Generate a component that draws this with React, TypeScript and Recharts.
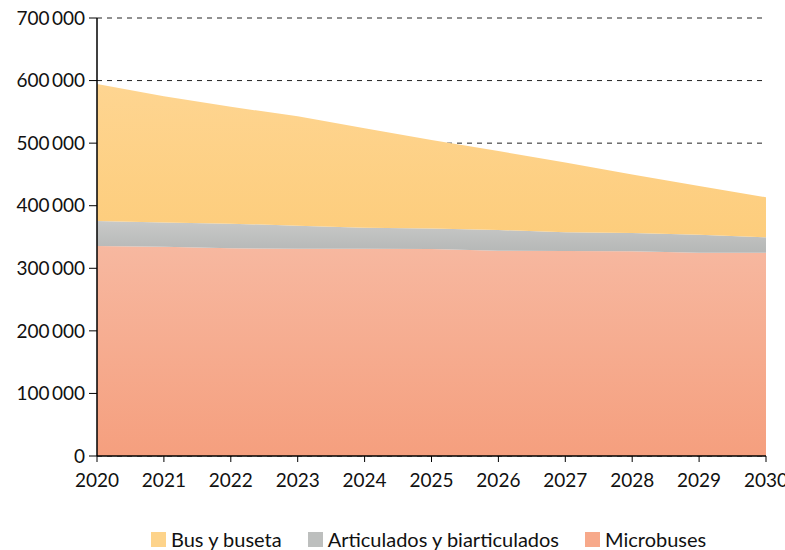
import React from "react";
import {
  AreaChart,
  Area,
  XAxis,
  YAxis,
  CartesianGrid,
  Legend,
} from "recharts";

const years = ["2020", "2021", "2022", "2023", "2024", "2025", "2026", "2027", "2028", "2029", "2030"];
const microbuses = [335600, 334500, 332000, 331300, 331300, 330800, 328100, 327600, 327100, 324900, 324900];
const articulados = [40000, 38700, 39300, 36800, 33600, 32800, 33100, 29900, 29300, 28800, 24600];
const busBuseta = [218900, 201800, 186700, 174900, 159100, 141400, 126300, 111500, 93600, 77800, 64000];
const yTicks = [0, 100000, 200000, 300000, 400000, 500000, 600000, 700000];

const data = years.map((year, i) => ({
  year,
  micro: microbuses[i],
  art: articulados[i],
  bus: busBuseta[i],
}));

const legendItems = [
  { label: "Bus y buseta", swatch: "#fdd38a" },
  { label: "Articulados y biarticulados", swatch: "#bdbfbe" },
  { label: "Microbuses", swatch: "#f7a98a" },
];

const fmt = (v: number) => (v === 0 ? "0" : v.toLocaleString("en-US").replace(/,/g, "\u2009"));

function LegendContent() {
  return (
    <div style={{ display: "flex", alignItems: "center", gap: 26, fontFamily: "Lato", fontSize: 20, color: "#111", lineHeight: "22px" }}>
      {legendItems.map((it) => (
        <div key={it.label} style={{ display: "flex", alignItems: "center", gap: 5 }}>
          <span style={{ display: "inline-block", width: 15, height: 15, background: it.swatch }} />
          <span>{it.label}</span>
        </div>
      ))}
    </div>
  );
}

export default function App() {
  return (
    <div style={{ position: "absolute", left: 0, top: 0, width: 785, height: 550, background: "#fff" }}>
      <AreaChart width={785} height={550} data={data} margin={{ top: 18, right: 19, left: 0, bottom: 36 }}>
        <defs>
          <linearGradient id="gBus" x1="0" y1="0" x2="0" y2="1">
            <stop offset="0%" stopColor="#fed591" />
            <stop offset="100%" stopColor="#fdcd7c" />
          </linearGradient>
          <linearGradient id="gArt" x1="0" y1="0" x2="0" y2="1">
            <stop offset="0%" stopColor="#c8c9c8" />
            <stop offset="100%" stopColor="#b5b7b6" />
          </linearGradient>
          <linearGradient id="gMicro" x1="0" y1="0" x2="0" y2="1">
            <stop offset="0%" stopColor="#f7b8a0" />
            <stop offset="100%" stopColor="#f59f7e" />
          </linearGradient>
        </defs>
        <CartesianGrid vertical={false} stroke="#222" strokeDasharray="5 5" />
        <XAxis
          dataKey="year"
          height={36}
          tickLine={{ stroke: "#000" }}
          axisLine={{ stroke: "#000", strokeWidth: 1.5 }}
          tickSize={6}
          tick={{ fill: "#111", fontSize: 19, fontFamily: "Lato" }}
          tickMargin={12}
          interval={0}
        />
        <YAxis
          width={97}
          domain={[0, 700000]}
          ticks={yTicks}
          tickFormatter={fmt}
          tickLine={{ stroke: "#000" }}
          axisLine={{ stroke: "#000", strokeWidth: 1.5 }}
          tickSize={8}
          tickMargin={4}
          tick={{ fill: "#111", fontSize: 19, fontFamily: "Lato" }}
        />
        <Area type="linear" dataKey="micro" name="Microbuses" stackId="1" stroke="none" fill="url(#gMicro)" fillOpacity={1} isAnimationActive={false} />
        <Area type="linear" dataKey="art" name="Articulados y biarticulados" stackId="1" stroke="none" fill="url(#gArt)" fillOpacity={1} isAnimationActive={false} />
        <Area type="linear" dataKey="bus" name="Bus y buseta" stackId="1" stroke="none" fill="url(#gBus)" fillOpacity={1} isAnimationActive={false} />
        <Legend content={<LegendContent />} wrapperStyle={{ left: 151, bottom: 0, width: "auto" }} />
      </AreaChart>
    </div>
  );
}
